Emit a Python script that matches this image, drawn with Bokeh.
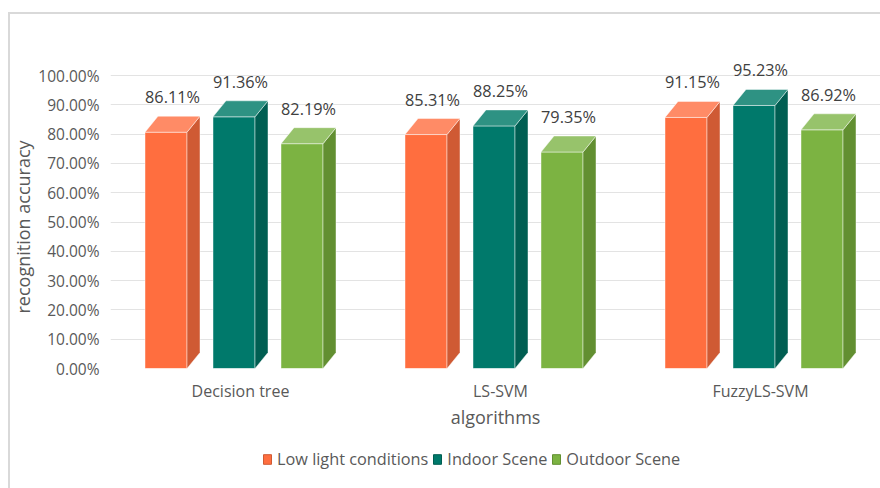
from bokeh.plotting import figure
from bokeh.layouts import column
from bokeh.models import (FixedTicker, NumeralTickFormatter, Legend, LegendItem,
                          Range1d, Title)
from bokeh.embed import file_html
from bokeh.resources import INLINE
from bokeh.core.properties import value

# ---------------- data ----------------
categories = ["Decision tree", "LS-SVM", "FuzzyLS-SVM"]
series_names = ["Low light conditions", "Indoor Scene", "Outdoor Scene"]
low_light = [0.8611, 0.8531, 0.9115]
indoor = [0.9136, 0.8825, 0.9523]
outdoor = [0.8219, 0.7935, 0.8692]
y_ticks = [0.0, 0.1, 0.2, 0.3, 0.4, 0.5, 0.6, 0.7, 0.8, 0.9, 1.0]

series_values = [low_light, indoor, outdoor]
front_colors = ["#FF6E3F", "#00796B", "#7CB342"]
side_colors = ["#CF5A34", "#005E52", "#628F31"]
top_colors = ["#FF8B66", "#2E9283", "#97C36B"]

FONT = "Open Sans"
TXT = "#595959"

# --------------- geometry (styling) ---------------
CAT_PX = 260.0
PX_Y = 293.0
FRAME_W = 770
FRAME_H = 320
SLOT = 68 / CAT_PX
FRONT_W = 42 / CAT_PX
DX = 13 / CAT_PX
DY = 16 / PX_Y

p = figure(width=880, height=448, output_backend="svg", toolbar_location=None,
           x_range=Range1d(-0.5, -0.5 + FRAME_W / CAT_PX),
           y_range=Range1d(0, FRAME_H / PX_Y),
           min_border_left=110, min_border_right=0, min_border_top=48,
           min_border_bottom=80)
p.outline_line_color = None
p.background_fill_alpha = 0
p.border_fill_alpha = 0

for i, vals in enumerate(series_values):
    fx, fy, sx, sy, tx, ty = [], [], [], [], [], []
    lx, ly, lt = [], [], []
    for c, v in enumerate(vals):
        cx = c + (i - 1) * SLOT
        xl = cx - (FRONT_W + DX) / 2
        xr = xl + FRONT_W
        fx.append([xl, xr, xr, xl]); fy.append([0, 0, v - DY, v - DY])
        sx.append([xr, xr + DX, xr + DX, xr]); sy.append([0, DY, v, v - DY])
        tx.append([xl, xr, xr + DX, xl + DX]); ty.append([v - DY, v - DY, v, v])
        lx.append(cx); ly.append(v + 19 / PX_Y); lt.append(f"{v * 100:.2f}%")
    p.patches(fx, fy, fill_color=front_colors[i], line_color="white",
              line_alpha=0.45, line_width=1)
    p.patches(sx, sy, fill_color=side_colors[i], line_color="white",
              line_alpha=0.45, line_width=1)
    p.patches(tx, ty, fill_color=top_colors[i], line_color="white",
              line_alpha=0.45, line_width=1)
    p.text(lx, ly, text=lt, text_align="center", text_baseline="alphabetic",
           text_font=value(FONT), text_font_size="16.3px", text_color="#404040")

# --------------- axes ---------------
p.yaxis.ticker = FixedTicker(ticks=y_ticks)
p.yaxis.formatter = NumeralTickFormatter(format="0.00%")
p.xaxis.ticker = FixedTicker(ticks=[0, 1, 2])
p.xaxis.major_label_overrides = {i: c for i, c in enumerate(categories)}
p.xaxis.axis_label = "algorithms"
for ax in (p.xaxis, p.yaxis):
    ax.axis_line_color = None
    ax.major_tick_line_color = None
    ax.minor_tick_line_color = None
    ax.major_tick_out = 0
    ax.major_tick_in = 0
    ax.major_label_text_font = FONT
    ax.major_label_text_font_size = "15.5px"
    ax.major_label_text_color = TXT
    ax.axis_label_text_font = FONT
    ax.axis_label_text_font_size = "18px"
    ax.axis_label_text_font_style = "normal"
    ax.axis_label_text_color = TXT
p.xaxis.major_label_text_font_size = "16px"
p.yaxis.major_label_standoff = 11
p.xaxis.major_label_standoff = 11
p.xaxis.axis_label_standoff = 0

ytitle = Title(text="recognition accuracy", align="left", offset=55,
               standoff=2, text_font=FONT, text_font_size="18px",
               text_font_style="normal", text_color=TXT)
p.add_layout(ytitle, "left")

p.xgrid.visible = False
p.ygrid.ticker = FixedTicker(ticks=y_ticks)
p.ygrid.grid_line_color = "#E3E3E3"
p.ygrid.grid_line_width = 1

# --------------- legend (own strip below the chart) ---------------
lg = figure(width=880, height=40, output_backend="svg", toolbar_location=None,
            x_range=Range1d(0, 1), y_range=Range1d(0, 1),
            min_border_left=0, min_border_right=0, min_border_top=0,
            min_border_bottom=0)
lg.axis.visible = False
lg.grid.visible = False
lg.outline_line_color = None
lg.background_fill_alpha = 0
lg.border_fill_alpha = 0
legend_renderers = [lg.quad(left=[5], right=[6], bottom=[5], top=[6],
                            fill_color=front_colors[i], line_color=side_colors[i],
                            line_width=1)
                    for i in range(len(series_names))]
legend = Legend(items=[LegendItem(label=n, renderers=[r])
                       for n, r in zip(series_names, legend_renderers)],
                orientation="horizontal", location=(152, 18),
                glyph_width=10, glyph_height=12, label_standoff=5, spacing=4,
                padding=0, margin=0, border_line_color=None,
                background_fill_alpha=0, label_text_font=FONT,
                label_text_font_size="16.3px", label_text_color=TXT)
lg.add_layout(legend, "center")

layout = column(p, lg, spacing=0, styles={
    "background-image": "linear-gradient(#D9D9D9, #D9D9D9), linear-gradient(#D9D9D9, #D9D9D9)",
    "background-size": "2px 100%, 100% 2px",
    "background-position": "8px 12px, 8px 12px",
    "background-repeat": "no-repeat",
    "background-color": "white",
})

open("out.html", "w").write(file_html(layout, INLINE))
